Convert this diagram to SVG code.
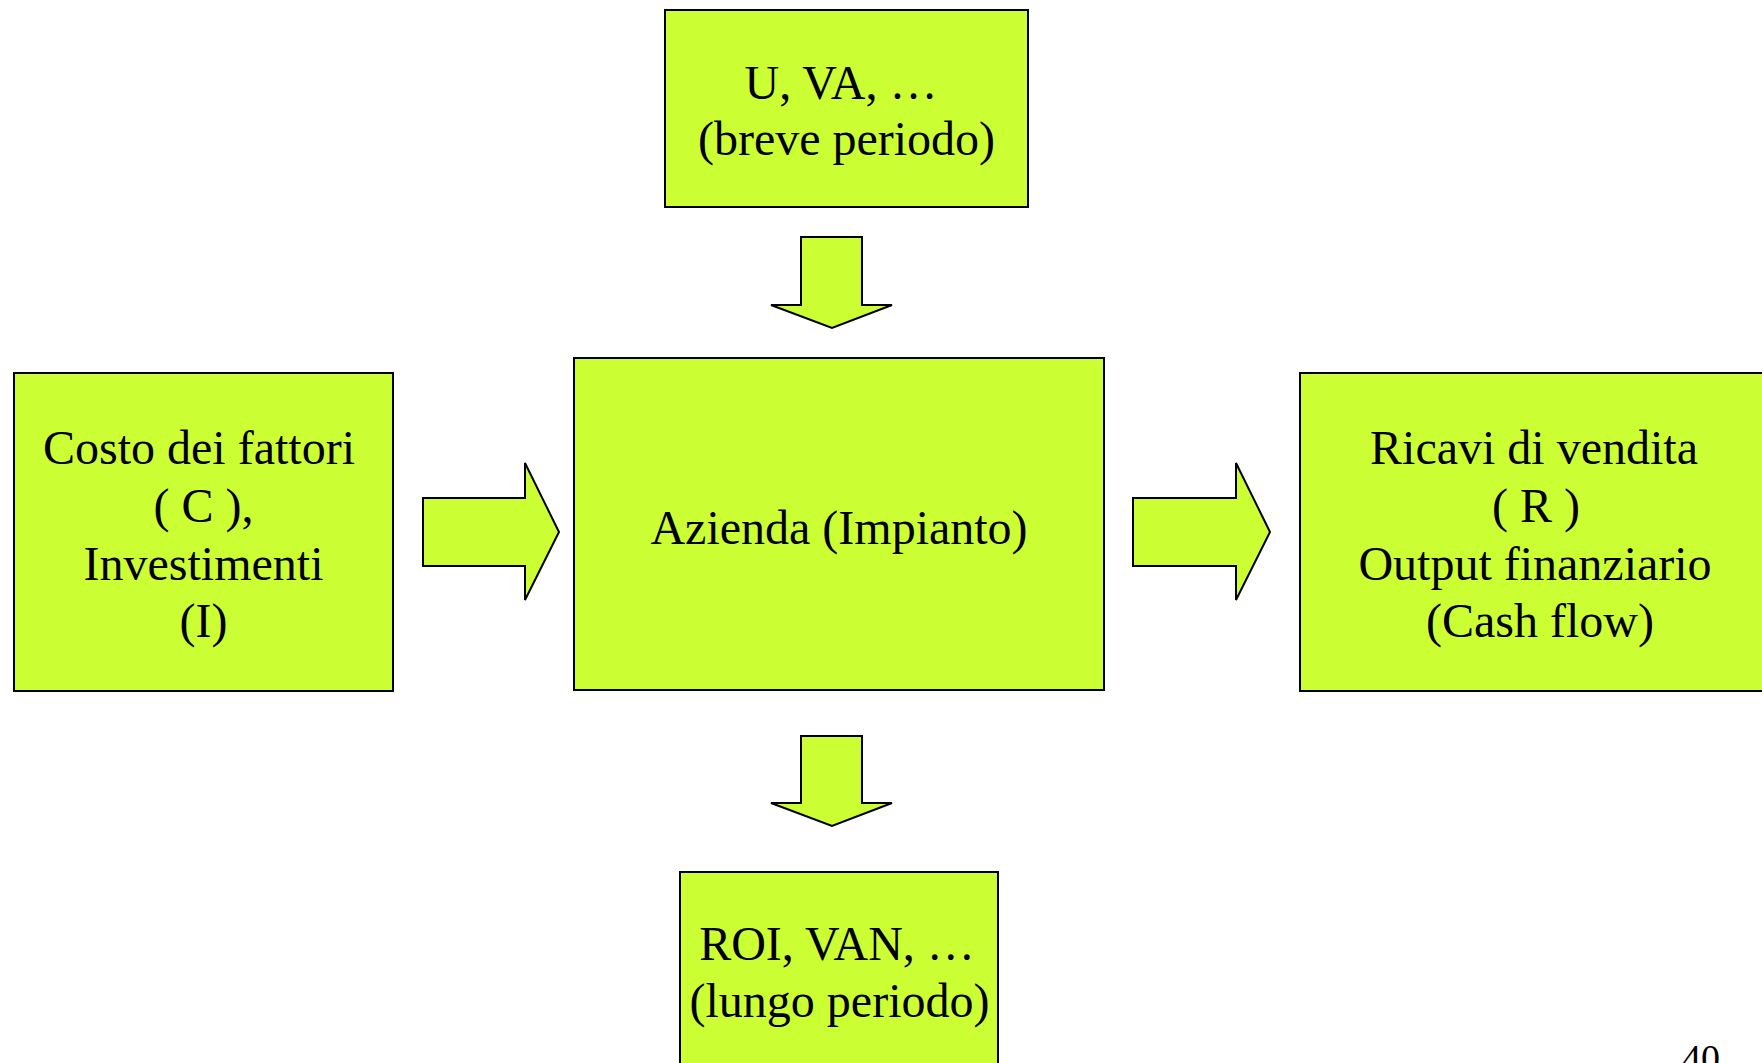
<svg xmlns="http://www.w3.org/2000/svg" width="1762" height="1063" viewBox="0 0 1762 1063">
  <style>
    .box { fill: #CCFF33; stroke: #000000; stroke-width: 2; }
    .arrow { fill: #CCFF33; stroke: #000000; stroke-width: 2; stroke-linejoin: miter; }
    .label { font-family: "Liberation Serif", "Times New Roman", serif; font-size: 48px; fill: #000000; text-anchor: middle; }
    .pagenum { font-family: "Liberation Serif", "Times New Roman", serif; font-size: 38px; fill: #000000; }
  </style>
  <rect width="1762" height="1063" fill="#FFFFFF"/>

  <!-- block arrows between the boxes -->
  <g id="connectors">
    <path class="arrow" d="M801,237 L862,237 L862,305 L892,305 L832,328 L771,305 L801,305 Z"/>
    <path class="arrow" d="M423,498 L525,498 L525,463 L559,532 L525,600 L525,566 L423,566 Z"/>
    <path class="arrow" d="M1133,498 L1236,498 L1236,463 L1270,532 L1236,600 L1236,566 L1133,566 Z"/>
    <path class="arrow" d="M801,736 L862,736 L862,803 L892,803 L832,826 L771,803 L801,803 Z"/>
  </g>

  <g id="short-term">
    <rect class="box" x="665" y="10" width="363" height="197"/>
    <text class="label" x="841" y="99">U, VA, …</text>
    <text class="label" x="846.5" y="155">(breve periodo)</text>
  </g>

  <g id="inputs">
    <rect class="box" x="14" y="373" width="379" height="318"/>
    <text class="label" x="199" y="464">Costo dei fattori</text>
    <text class="label" x="203.5" y="522">( C ),</text>
    <text class="label" x="203.5" y="580">Investimenti</text>
    <text class="label" x="203.5" y="637">(I)</text>
  </g>

  <g id="company">
    <rect class="box" x="574" y="358" width="530" height="332"/>
    <text class="label" x="839" y="544">Azienda (Impianto)</text>
  </g>

  <g id="outputs">
    <rect class="box" x="1300" y="373" width="472" height="318"/>
    <text class="label" x="1534" y="464">Ricavi di vendita</text>
    <text class="label" x="1536" y="522">( R )</text>
    <text class="label" x="1535" y="580">Output finanziario</text>
    <text class="label" x="1540" y="637">(Cash flow)</text>
  </g>

  <g id="long-term">
    <rect class="box" x="680" y="872" width="318" height="210"/>
    <text class="label" x="837" y="960">ROI, VAN, …</text>
    <text class="label" x="839.5" y="1017">(lungo periodo)</text>
  </g>

  <text class="pagenum" x="1682" y="1071">40</text>
</svg>
